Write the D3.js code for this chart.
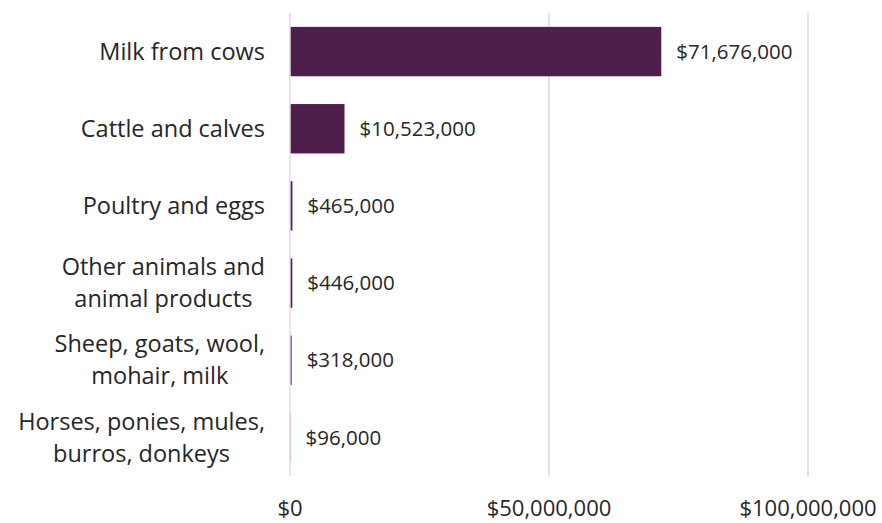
<!DOCTYPE html>
<html><head><meta charset="utf-8">
<script src="https://cdn.jsdelivr.net/npm/d3@7"></script>
<style>body{margin:0;background:#fff;} text{font-family:"Open Sans","Noto Sans",sans-serif;fill:#262626;}</style>
</head><body>
<svg id="c" width="882" height="523"></svg>
<script>
const categories = ["Milk from cows","Cattle and calves","Poultry and eggs","Other animals and|animal products","Sheep, goats, wool,|mohair, milk","Horses, ponies, mules,|burros, donkeys"];
const values = [71676000,10523000,465000,446000,318000,96000];
const valueLabels = ["$71,676,000","$10,523,000","$465,000","$446,000","$318,000","$96,000"];
const tickValues = [0,50000000,100000000];
const tickLabels = ["$0","$50,000,000","$100,000,000"];

const svg = d3.select("#c");
const x = d3.scaleLinear().domain([0,100000000]).range([290,808]);
const y = d3.scaleBand().domain(categories).range([13,476]).paddingInner(0.36).paddingOuter(0.18);

// gridlines (non-zero)
svg.append("g").selectAll("line").data(tickValues.slice(1)).join("line")
  .attr("x1",d=>x(d)).attr("x2",d=>x(d)).attr("y1",13).attr("y2",476)
  .attr("stroke","#d9d9d9").attr("stroke-width",1.5);

// bars
svg.append("g").selectAll("rect").data(values).join("rect")
  .attr("x",x(0)).attr("y",(d,i)=>y(categories[i]))
  .attr("width",d=>Math.max(0,x(d)-x(0))).attr("height",y.bandwidth())
  .attr("fill","#4f1f4c");

// zero line on top
svg.append("line").attr("x1",x(0)).attr("x2",x(0)).attr("y1",13).attr("y2",476)
  .attr("stroke","#f0d3ef").attr("stroke-width",1.5);

// value labels
svg.append("g").selectAll("text").data(values).join("text")
  .attr("x",d=>x(d)+15).attr("y",(d,i)=>y(categories[i])+y.bandwidth()/2)
  .attr("dy","0.35em").attr("font-size",20.5).text((d,i)=>valueLabels[i]);

// category labels
const cl = svg.append("g").selectAll("text").data(categories).join("text")
  .attr("text-anchor","middle").attr("font-size",23.5)
  .attr("transform",d=>`translate(0,${y(d)+y.bandwidth()/2})`);
cl.each(function(d){
  const lines = d.split("|");
  const t = d3.select(this);
  const lh = 32;
  lines.forEach((ln,j)=>{
    t.append("tspan").attr("x",0).attr("y",(j-(lines.length-1)/2)*lh).attr("dy","0.35em").text(ln);
  });
});
cl.each(function(d){
  const t = d3.select(this);
  const w = this.getBBox().width;
  const cy = y(d)+y.bandwidth()/2;
  t.attr("transform",`translate(${265 - w/2},${cy})`);
});

// x tick labels
svg.append("g").selectAll("text").data(tickValues).join("text")
  .attr("x",d=>x(d)).attr("y",508).attr("dy","0.35em")
  .attr("text-anchor","middle").attr("font-size",22).text((d,i)=>tickLabels[i]);
</script>
</body></html>
